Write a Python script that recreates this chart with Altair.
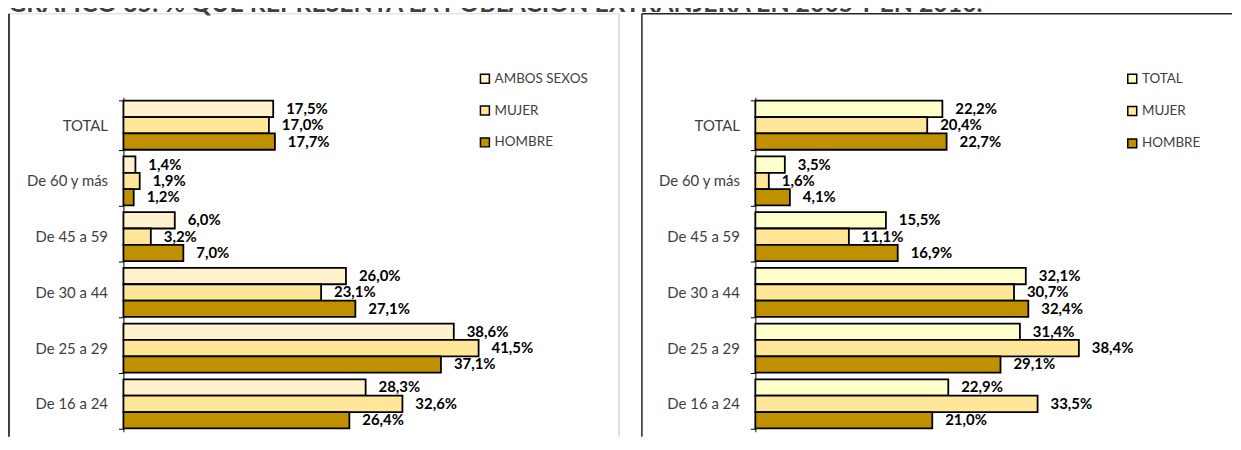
import altair as alt
import pandas as pd

categories = ["TOTAL", "De 60 y más", "De 45 a 59", "De 30 a 44", "De 25 a 29", "De 16 a 24"]

left_series = ["AMBOS SEXOS", "MUJER", "HOMBRE"]
left_ambos = [17.5, 1.4, 6.0, 26.0, 38.6, 28.3]
left_mujer = [17.0, 1.9, 3.2, 23.1, 41.5, 32.6]
left_hombre = [17.7, 1.2, 7.0, 27.1, 37.1, 26.4]

right_series = ["TOTAL", "MUJER", "HOMBRE"]
right_total = [22.2, 3.5, 15.5, 32.1, 31.4, 22.9]
right_mujer = [20.4, 1.6, 11.1, 30.7, 38.4, 33.5]
right_hombre = [22.7, 4.1, 16.9, 32.4, 29.1, 21.0]

left_colors = ["#FFF2CC", "#FFE699", "#BF9000"]
right_colors = ["#FFFFCC", "#FFE699", "#BF9000"]

title_text = "GRÁFICO 35: % QUE REPRESENTA LA POBLACIÓN EXTRANJERA EN 2005 Y EN 2010."

X_MAX = 45
H = 336


def make_df(series, cols):
    rows = []
    for s, vals in zip(series, cols):
        for c, v in zip(categories, vals):
            rows.append({"cat": c, "serie": s, "valor": v,
                         "etiqueta": f"{v:.1f}".replace(".", ",") + "%"})
    return pd.DataFrame(rows)


one = pd.DataFrame({"k": [0]})


def rule(x, x2, y, y2, color, width):
    return alt.Chart(one).mark_rule(color=color, strokeWidth=width).encode(
        x=alt.value(x), x2=alt.value(x2), y=alt.value(y), y2=alt.value(y2))


def panel(df, series, colors, px_per_unit, legend_x, legend_y, row_pad, frame):
    W = round(X_MAX * px_per_unit)
    base = alt.Chart(df).encode(
        y=alt.Y("cat:N", sort=categories, title=None,
                scale=alt.Scale(paddingInner=0.12, paddingOuter=0.06),
                axis=alt.Axis(tickBand="extent", domainColor="#000000", tickColor="#000000",
                              tickSize=5, labelPadding=11, labelFont="Lato", labelFontSize=15,
                              labelColor="#404040", grid=False, domainWidth=1, tickWidth=1)),
        yOffset=alt.YOffset("serie:N", sort=series,
                            scale=alt.Scale(paddingInner=0, paddingOuter=0)),
    )
    x = alt.X("valor:Q", scale=alt.Scale(domain=[0, X_MAX], nice=False, zero=True), axis=None)
    bars = base.mark_bar(stroke="#000000", strokeWidth=1.8, opacity=1).encode(
        x=x,
        color=alt.Color("serie:N", sort=series,
                        scale=alt.Scale(domain=series, range=colors),
                        legend=alt.Legend(title=None, orient="none", legendX=legend_x,
                                          legendY=legend_y, symbolType="square", symbolSize=81,
                                          symbolStrokeColor="#000000", symbolStrokeWidth=1.5,
                                          symbolOpacity=1, labelFont="Lato", labelFontSize=13.5,
                                          labelColor="#404040", rowPadding=row_pad, labelOffset=3,
                                          padding=0)),
    )
    labels = base.mark_text(align="left", baseline="middle", dx=13, font="Lato",
                            fontSize=15, fontWeight="bold", color="#000000").encode(
        x=x, text="etiqueta:N")
    return alt.layer(*frame, bars, labels).properties(width=W, height=H)


left_df = make_df(left_series, [left_ambos, left_mujer, left_hombre])
right_df = make_df(right_series, [right_total, right_mujer, right_hombre])

left_frame = [
    rule(-115, 498, -84, -84, "#D9D9D9", 1),
    rule(498, 498, -84, 341, "#BFBFBF", 1),
    rule(-115, -115, -84, 341, "#000000", 1.5),
]
right_frame = [
    rule(-114, 479, -84, -84, "#262626", 1.5),
    rule(-114, -114, -84, 341, "#262626", 1.5),
]

left = panel(left_df, left_series, left_colors, 8.6, 356.5, -25.5, 16, left_frame)
right = panel(right_df, right_series, right_colors, 8.47, 372, -25.5, 16.5, right_frame)

chart = alt.hconcat(left, right, spacing=21).resolve_scale(
    x="independent", y="independent", color="independent", yOffset="independent"
).resolve_legend(color="independent").properties(
    title=alt.TitleParams(text=title_text, anchor="start", fontSize=25, fontWeight="bold",
                          color="#404040", font="Lato", offset=-3.5, baseline="top"),
    padding={"left": 0, "top": -18.25, "right": 0, "bottom": 0},
).configure(font="Lato", background="white",
            view=alt.ViewConfig(stroke="transparent", strokeWidth=0))

chart.save("out.html", embed_options={"renderer": "svg", "actions": False})
